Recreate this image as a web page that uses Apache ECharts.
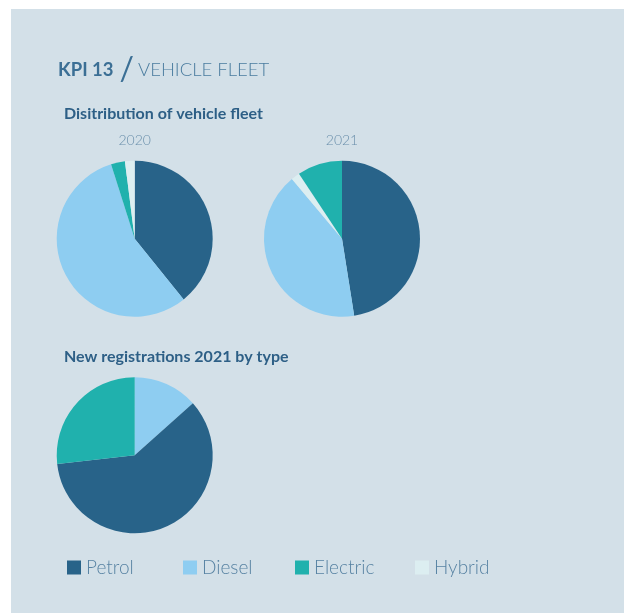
<!DOCTYPE html>
<html>
<head>
<meta charset="utf-8">
<script src="https://cdn.jsdelivr.net/npm/echarts@6/dist/echarts.min.js"></script>
<style>
html,body{margin:0;padding:0;background:#ffffff;}
#chart{position:absolute;left:11px;top:9px;width:613px;height:604px;}
</style>
</head>
<body>
<div id="chart"></div>
<script>
// ---- data ----
const categories = ['Petrol', 'Diesel', 'Electric', 'Hybrid'];
const categoryColors = ['#286389', '#8ecdf1', '#20b1ad', '#dceef1'];
const fleet2020 = [39.2, 55.9, 2.9, 2.0];
const fleet2021 = [47.5, 41.4, 9.3, 1.8];
const newReg2021 = [59.8, 13.4, 26.8, 0];
// drawing order (clockwise from top) of categories in each pie
const order2020 = [0, 1, 2, 3];
const order2021 = [0, 1, 3, 2];
const orderNewReg = [1, 0, 2];
const pieTitles = ['2020', '2021'];

const FONT = 'Lato, "Open Sans", sans-serif';
const OX = 11, OY = 9; // container offset

function pieData(values, order) {
  return order.map(i => ({
    name: categories[i],
    value: values[i],
    itemStyle: { color: categoryColors[i] }
  }));
}

function pieSeries(name, values, order, cx, cy) {
  return {
    type: 'pie',
    name: name,
    center: [cx - OX, cy - OY],
    radius: 78,
    startAngle: 90,
    clockwise: true,
    label: { show: false },
    labelLine: { show: false },
    emphasis: { disabled: true },
    itemStyle: { borderWidth: 0 },
    animation: false,
    data: pieData(values, order)
  };
}

const legendLefts = [67, 183, 295, 415];

const chart = echarts.init(document.getElementById('chart'));
chart.setOption({
  backgroundColor: '#d3e0e8',
  animation: false,
  title: [
    {
      left: 58 - OX, top: 54 - OY, padding: 0,
      text: '{b|KPI 13}{s|/}{l|VEHICLE FLEET}',
      textStyle: {
        rich: {
          b: { fontFamily: FONT, fontSize: 18.5, fontWeight: 'bold', color: '#3b6f95' },
          s: { fontFamily: FONT, fontSize: 32, fontWeight: 'normal', color: '#3b6f95', padding: [0, 4, 0, 6] },
          l: { fontFamily: FONT, fontSize: 18.5, fontWeight: 300, color: '#4a7c9f' }
        }
      }
    },
    {
      left: 64 - OX, top: 106 - OY, padding: 0,
      text: 'Disitribution of vehicle fleet',
      textStyle: { fontFamily: FONT, fontSize: 16, fontWeight: 'bold', color: '#2d5f86' }
    },
    {
      left: 134.7 - OX, top: 133 - OY, textAlign: 'center', padding: 0,
      text: pieTitles[0],
      textStyle: { fontFamily: FONT, fontSize: 14, fontWeight: 300, color: '#6a8fab' }
    },
    {
      left: 342 - OX, top: 133 - OY, textAlign: 'center', padding: 0,
      text: pieTitles[1],
      textStyle: { fontFamily: FONT, fontSize: 14, fontWeight: 300, color: '#6a8fab' }
    },
    {
      left: 64 - OX, top: 349 - OY, padding: 0,
      text: 'New registrations 2021 by type',
      textStyle: { fontFamily: FONT, fontSize: 16, fontWeight: 'bold', color: '#2d5f86' }
    }
  ],
  legend: categories.map((c, i) => ({
    data: [c],
    left: legendLefts[i] - OX,
    top: 558 - OY,
    padding: 0,
    orient: 'horizontal',
    itemWidth: 14,
    itemHeight: 14,
    itemGap: 6,
    selectedMode: false,
    icon: 'rect',
    textStyle: { fontFamily: FONT, fontSize: 19, fontWeight: 300, color: '#5883a3' }
  })),
  series: [
    pieSeries('2020', fleet2020, order2020, 134.7, 238.7),
    pieSeries('2021', fleet2021, order2021, 342, 238.7),
    pieSeries('New registrations 2021', newReg2021, orderNewReg, 134.7, 455.3)
  ]
});
</script>
</body>
</html>
